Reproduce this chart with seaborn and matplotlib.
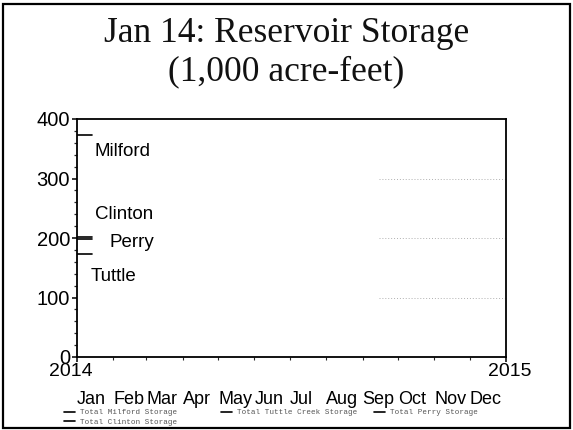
import datetime as dt

import matplotlib
matplotlib.use("Agg")
import matplotlib.pyplot as plt
import matplotlib.dates as mdates
import matplotlib.transforms as mtransforms
from matplotlib.patches import Rectangle
from matplotlib.ticker import MultipleLocator
import pandas as pd
import seaborn as sns

# Reservoir storage (1,000 acre-feet), first two weeks of January 2014
dates = [dt.datetime(2014, 1, 1), dt.datetime(2014, 1, 7), dt.datetime(2014, 1, 14)]
milford = [373, 373, 373]
tuttle = [173, 173, 173]
perry = [198, 198, 198]
clinton = [201, 201, 201]

series_names = [
    "Total Milford Storage",
    "Total Clinton Storage",
    "Total Tuttle Creek Storage",
    "Total Perry Storage",
]
series_values = [milford, clinton, tuttle, perry]

# Lake name labels placed beside the lines (date, storage)
lake_labels = ["Milford", "Clinton", "Perry", "Tuttle"]
lake_label_x = [dt.datetime(2014, 1, 16), dt.datetime(2014, 1, 16),
                dt.datetime(2014, 1, 29), dt.datetime(2014, 1, 13)]
lake_label_y = [345, 240, 192, 136]

month_names = ["Jan", "Feb", "Mar", "Apr", "May", "Jun",
               "Jul", "Aug", "Sep", "Oct", "Nov", "Dec"]
grid_levels = [100, 200, 300]
grid_start = dt.datetime(2014, 9, 15)
grid_end = dt.datetime(2014, 12, 31)

rows = []
for name, vals in zip(series_names, series_values):
    for d, v in zip(dates, vals):
        rows.append({"date": d, "storage": v, "series": name})
df = pd.DataFrame(rows)

sns.set_style("ticks")
plt.rcParams["font.family"] = ["Liberation Sans", "DejaVu Sans"]

fig = plt.figure(figsize=(5.73, 4.30), dpi=100)
ax = fig.add_axes([77 / 573, 1 - 357 / 430, (506 - 77) / 573, (357 - 119) / 430])

sns.lineplot(data=df, x="date", y="storage", hue="series",
             hue_order=series_names, palette=["black"] * 4,
             linewidth=1.2, ax=ax, legend=True)
handles, labels = ax.get_legend_handles_labels()
ax.get_legend().remove()

# faint dotted reference lines on the right
ax.hlines(grid_levels, grid_start, grid_end, colors="#b0b0b0",
          linestyles=(0, (1, 2)), linewidth=0.7)

ax.set_xlim(dt.datetime(2014, 1, 1), dt.datetime(2015, 1, 1))
ax.set_ylim(0, 400)
ax.xaxis.set_major_locator(mdates.YearLocator())
ax.xaxis.set_major_formatter(mdates.DateFormatter("%Y"))
ax.xaxis.set_minor_locator(mdates.MonthLocator())
ax.yaxis.set_major_locator(MultipleLocator(100))
ax.yaxis.set_minor_locator(MultipleLocator(20))
ax.set_xlabel("")
ax.set_ylabel("")

for sp in ax.spines.values():
    sp.set_visible(True)
    sp.set_linewidth(1.3)
    sp.set_color("black")

ax.tick_params(axis="y", which="major", length=3.6, width=1.1, pad=1.5,
               labelsize=14.5, colors="black")
ax.tick_params(axis="y", which="minor", length=2.2, width=0.9)
ax.tick_params(axis="x", which="major", length=3.6, width=1.1, pad=0.8,
               labelsize=14, colors="black")
ax.tick_params(axis="x", which="minor", length=1.8, width=0.8)

# nudge the year labels: first one leftwards, last one rightwards
fig.canvas.draw()
xlabels = ax.get_xticklabels()
if len(xlabels) >= 2:
    xlabels[0].set_transform(xlabels[0].get_transform()
                             + mtransforms.ScaledTranslation(-6 / 100, 0, fig.dpi_scale_trans))
    xlabels[-1].set_transform(xlabels[-1].get_transform()
                              + mtransforms.ScaledTranslation(4 / 100, 0, fig.dpi_scale_trans))

# lake labels
for txt, xd, yv in zip(lake_labels, lake_label_x, lake_label_y):
    ax.text(xd, yv, txt, fontsize=13.5, ha="left", va="center", color="black")

# month names under the year labels
trans = mtransforms.blended_transform_factory(ax.transData, fig.transFigure)
for m, name in enumerate(month_names, start=1):
    ax.text(dt.datetime(2014, m, 1), 1 - 399 / 430, name, transform=trans,
            fontsize=13, ha="left", va="center", color="black")

# title
fig.text(0.5, 1 - 33 / 430, "Jan 14: Reservoir Storage", ha="center", va="center",
         fontsize=25.5, family=["Liberation Serif", "DejaVu Serif"], color="#111111")
fig.text(0.5, 1 - 72 / 430, "(1,000 acre-feet)", ha="center", va="center",
         fontsize=25.5, family=["Liberation Serif", "DejaVu Serif"], color="#111111")

# legend split into three column groups
legend_font = {"family": ["Liberation Mono", "DejaVu Sans Mono"], "size": 5.5}
groups = [([0, 1], 64), ([2], 221), ([3], 374)]
for idx, xpix in groups:
    leg = fig.legend([handles[i] for i in idx], [labels[i] for i in idx],
                     loc="upper left", bbox_to_anchor=(xpix / 573, 1 - 409 / 430),
                     prop=legend_font, frameon=False, borderpad=0,
                     borderaxespad=0, handlelength=1.4, handletextpad=0.7,
                     labelspacing=0.25)
    for t in leg.get_texts():
        t.set_color("#555555")

# slide border
fig.patches.append(Rectangle((3 / 573, 2 / 430), 567 / 573, 424 / 430,
                             transform=fig.transFigure, fill=False,
                             edgecolor="black", linewidth=1.6))

fig.savefig("out.png", dpi=100)
